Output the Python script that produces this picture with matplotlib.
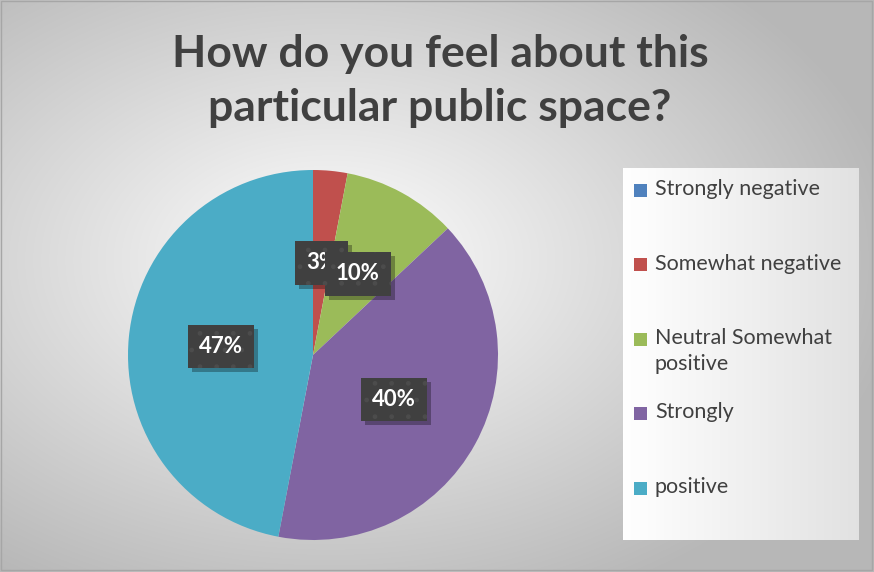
import numpy as np
import matplotlib.pyplot as plt
from matplotlib.patches import Rectangle
from matplotlib.transforms import IdentityTransform

plt.rcParams['font.family'] = ['Lato', 'DejaVu Sans']

title = "How do you feel about this\nparticular public space?"
categories = ["Strongly negative", "Somewhat negative", "Neutral Somewhat positive", "Strongly", "positive"]
legend_labels = ["Strongly negative", "Somewhat negative", "Neutral Somewhat\npositive", "Strongly", "positive"]
values = [0, 3, 10, 40, 47]
colors = ["#4F81BD", "#C0504D", "#9BBB59", "#8064A2", "#4BACC6"]

W, H = 874, 572
fig = plt.figure(figsize=(W / 100, H / 100), dpi=100)

# radial gradient background
bg = fig.add_axes([0, 0, 1, 1])
yy, xx = np.mgrid[0:H, 0:W]
d = np.sqrt(((xx - 330) / W) ** 2 + ((yy - 260) / H) ** 2)
shade = np.clip(1.0 - 0.32 * (d / 0.75), 0.72, 1.0)
bg.imshow(np.dstack([shade] * 3), extent=[0, W, H, 0], aspect='auto')
bg.add_patch(Rectangle((1, 1), W - 3, H - 3, fill=False, edgecolor='#a6a6a6', linewidth=1))

# legend panel
lx0, ly0, lx1, ly1 = 623, 168, 859, 540
gx = np.linspace(1.0, 0.885, 200)
panel = np.tile(gx, (50, 1))
bg.imshow(np.dstack([panel] * 3), extent=[lx0, lx1, ly1, ly0], aspect='auto', zorder=2)
bg.set_xlim(0, W)
bg.set_ylim(H, 0)
bg.axis('off')

bg.text(W / 2 + 3, 81, title, ha='center', va='center', fontsize=32, fontweight='bold',
        color='#404040', linespacing=1.4)

for i, (lab, col) in enumerate(zip(legend_labels, colors)):
    y = 190 + 74.5 * i
    bg.add_patch(Rectangle((634, y - 6.5), 13, 13, facecolor=col, edgecolor='none', zorder=3))
    bg.text(655, y - 11, lab, ha='left', va='top', fontsize=15.5, color='#404040',
            linespacing=1.4, zorder=3)

# pie
cx, cy, r = 313, 355, 185
ax = fig.add_axes([(cx - r) / W, (H - cy - r) / H, 2 * r / W, 2 * r / H])
wedges, texts, autotexts = ax.pie(values, colors=colors, startangle=90, counterclock=False,
                                  autopct=lambda p: f"{p:.0f}%" if p > 0 else "",
                                  pctdistance=0.5, wedgeprops=dict(linewidth=0))
ax.set_xlim(-1, 1)
ax.set_ylim(-1, 1)
ax.set_aspect('equal')

shown = [t for t in autotexts if t.get_text()]
z = 5
for t in shown:
    t.set_color('white')
    t.set_fontsize(16)
    t.set_fontweight('bold')
    t.set_zorder(z + 1)
    t.set_bbox(dict(boxstyle='square,pad=0.5', facecolor='#404040', edgecolor='#4c4c4c',
                    hatch='.', linewidth=0))
    z += 2

# drop shadows behind the label boxes
fig.canvas.draw()
for t in shown:
    bb = t.get_bbox_patch().get_window_extent()
    shadow = Rectangle((bb.x0 + 4, bb.y0 - 4), bb.width, bb.height,
                       transform=IdentityTransform(), facecolor='black', alpha=0.3,
                       linewidth=0, zorder=t.get_zorder() - 1, clip_on=False)
    ax.add_patch(shadow)

fig.savefig("out.png", dpi=100)
